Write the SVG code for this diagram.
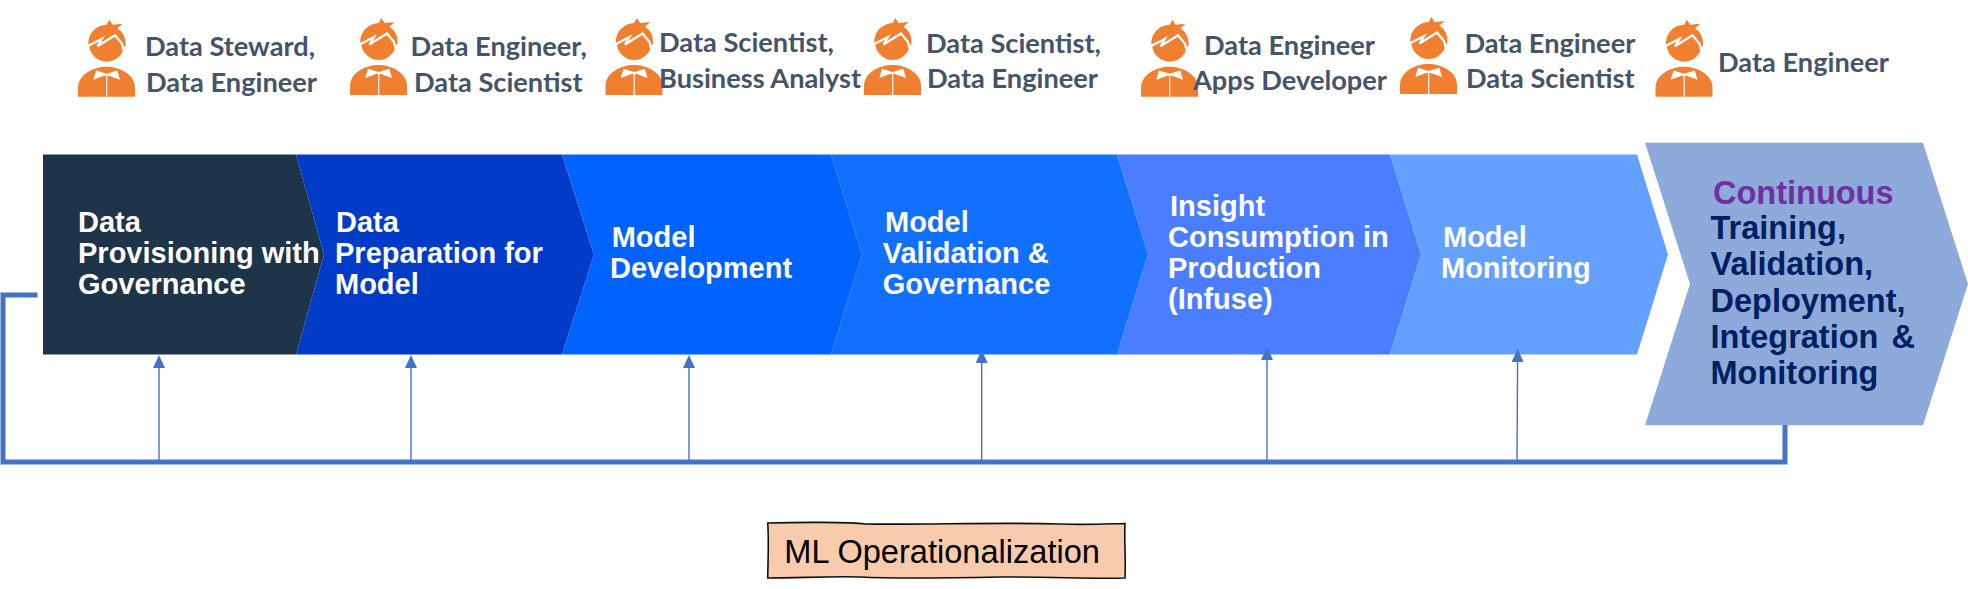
<svg xmlns="http://www.w3.org/2000/svg" xmlns:xlink="http://www.w3.org/1999/xlink" width="1968" height="589" viewBox="0 0 1968 589">
<style>
.step{font:bold 29px "Liberation Sans",Arial,sans-serif;fill:#fff}
.cont{font:bold 32.5px "Liberation Sans",Arial,sans-serif;fill:#002060}
.role{font:bold 27.2px Lato,"Open Sans",sans-serif;fill:#44546A}
.thick{fill:none;stroke:#4472C4;stroke-width:5}
.thin{fill:none;stroke:#4472C4;stroke-width:1.4;marker-end:url(#tri)}
</style>
<defs>
<marker id="tri" markerUnits="userSpaceOnUse" markerWidth="13" markerHeight="12" refX="0" refY="6" orient="auto"><path d="M0,0L13,6L0,12Z" fill="#4472C4"/></marker>
<g id="person">
<path fill="#F08030" d="M10.3,25A18.7,18.7 0 0 1 28.7,5L31.3,0L34.7,5L44.7,4L39.5,8.5A18.7,18.7 0 0 1 47.5,25L45,30Z"/>
<circle cx="28.7" cy="24.5" r="17.5" fill="#F08030"/>
<path fill="none" stroke="#fff" stroke-width="2.2" d="M9.5,26.5L24,19L19.5,26.5L37,15.5L44,24L46,32"/>
<path fill="#F08030" d="M0,77V68C0,55 15,47 28.5,47C42,47 57,55 57,68V77Z"/>
<path fill="#fff" d="M15.3,60L18,50.7L28.7,54L39.3,50.7L42,60L31,56H26Z"/>
<path stroke="#fff" stroke-width="1.2" d="M28.7,56V77"/>
</g>
</defs>
<rect width="1968" height="589" fill="#fff"/>
<g id="step1"><path fill="#1E3448" d="M43,154.5H296L324,254.5L296,354.5H43Z"/>
<text class="step" x="78" y="231.7">Data</text><text class="step" x="78" y="262.7">Provisioning with</text><text class="step" x="78" y="294">Governance</text></g>
<g id="step2"><path fill="#023BC8" d="M296,154.5H562L594,254.5L562,354.5H296L324,254.5Z"/>
<text class="step" x="336" y="231.7">Data</text><text class="step" x="335" y="262.7">Preparation for</text><text class="step" x="335" y="294">Model</text></g>
<g id="step3"><path fill="#0062FF" d="M562,154.5H831L862,254.5L831,354.5H562L594,254.5Z"/>
<text class="step" x="611.7" y="247.3">Model</text><text class="step" x="610" y="278.3">Development</text></g>
<g id="step4"><path fill="#1170FF" d="M831,154.5H1117L1148,254.5L1117,354.5H831L862,254.5Z"/>
<text class="step" x="885" y="231.7">Model</text><text class="step" x="882.7" y="262.7">Validation &amp;</text><text class="step" x="882.7" y="294">Governance</text></g>
<g id="step5"><path fill="#4A7DFF" d="M1117,154.5H1390L1421,254.5L1390,354.5H1117L1148,254.5Z"/>
<text class="step" x="1170" y="216">Insight</text><text class="step" x="1168" y="247.3">Consumption in</text><text class="step" x="1168" y="278.3">Production</text><text class="step" x="1168" y="309.3">(Infuse)</text></g>
<g id="step6"><path fill="#64A0FF" d="M1390,154.5H1637L1668,254.5L1637,354.5H1390L1421,254.5Z"/>
<text class="step" x="1443" y="247.3">Model</text><text class="step" x="1441" y="278.3">Monitoring</text></g>
<g id="step7"><path fill="#8EAADB" d="M1645,142.7H1923L1968,284L1923,425.3H1645L1690,284Z"/>
<text class="cont" x="1713" y="204" style="fill:#7030A0">Continuous</text><text class="cont" x="1710.5" y="239.3">Training,</text><text class="cont" x="1710.5" y="275.3">Validation,</text><text class="cont" x="1710.5" y="311.7">Deployment,</text><text class="cont" x="1710.5" y="347.7">Integration <tspan dx="4">&amp;</tspan></text><text class="cont" x="1710.5" y="384">Monitoring</text></g>
<g id="connectors">
<path class="thick" d="M37.5,295H3V462H1785V425"/>
<path class="thin" d="M159,460V368"/>
<path class="thin" d="M411,460V368"/>
<path class="thin" d="M689,460V368"/>
<path class="thin" d="M981.7,460V363"/>
<path class="thin" d="M1267,460V360"/>
<path class="thin" d="M1517,460L1517.6,362"/>
</g>
<g id="role1"><use xlink:href="#person" href="#person" x="78" y="19.7"/><text class="role" x="145" y="56">Data Steward,</text><text class="role" x="146" y="91.7">Data Engineer</text></g>
<g id="role2"><use xlink:href="#person" href="#person" x="350" y="18"/><text class="role" x="410.6" y="56">Data Engineer,</text><text class="role" x="414" y="91.7">Data Scientist</text></g>
<g id="role3"><use xlink:href="#person" href="#person" x="605.5" y="18"/><text class="role" x="659" y="52.3">Data Scientist,</text><text class="role" x="659" y="87.7">Business Analyst</text></g>
<g id="role4"><use xlink:href="#person" href="#person" x="864" y="18"/><text class="role" x="926" y="53.3">Data Scientist,</text><text class="role" x="927" y="88.3">Data Engineer</text></g>
<g id="role5"><use xlink:href="#person" href="#person" x="1141" y="19.7"/><text class="role" x="1204" y="55">Data Engineer</text><text class="role" x="1193" y="90">Apps Developer</text></g>
<g id="role6"><use xlink:href="#person" href="#person" x="1400" y="17"/><text class="role" x="1464.4" y="53.3">Data Engineer</text><text class="role" x="1466" y="88.3">Data Scientist</text></g>
<g id="role7"><use xlink:href="#person" href="#person" x="1655.5" y="19.7"/><text class="role" x="1718" y="71.7">Data Engineer</text></g>
<g id="label"><path fill="#F8CBAD" stroke="#111" stroke-width="1.6" d="M767.7,523C800,522 850,522 865,524C920,525 1000,522 1060,524C1085,525 1105,524 1125,523.5C1124,540 1126,560 1125,578C1090,579 1060,577 1000,577C950,578 900,579 860,577C830,576 800,578 767.7,578C768,560 769,540 767.7,523Z"/>
<text x="784.3" y="562.7" style="font:32.6px 'Liberation Sans',Arial,sans-serif;fill:#000">ML Operationalization</text></g>
</svg>
